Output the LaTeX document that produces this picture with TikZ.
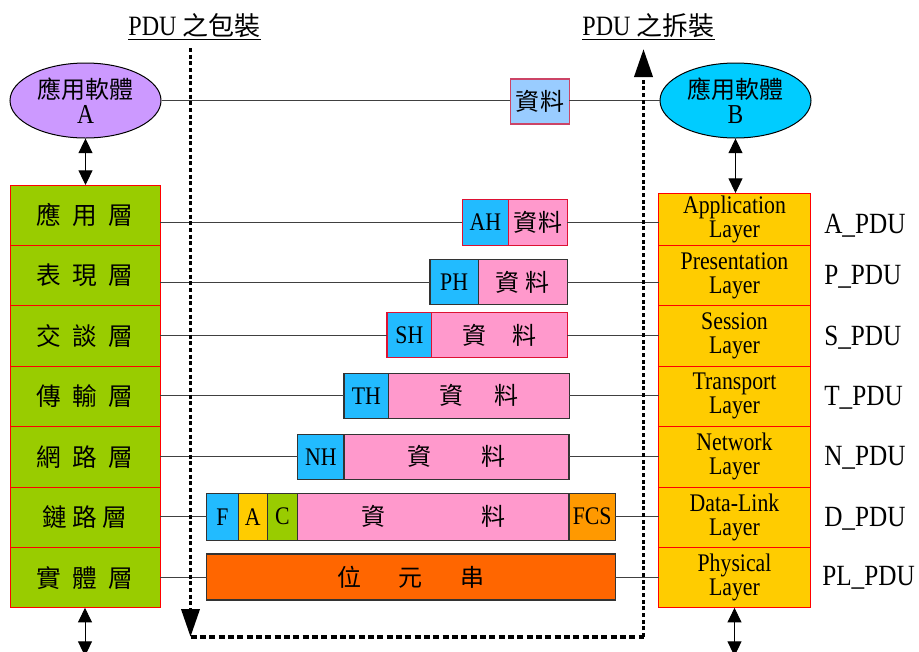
\documentclass[tikz,border=0pt]{standalone}
\usepackage{fontspec}
\setmainfont{Liberation Serif}[FakeStretch=0.86]
\newfontfamily\cjk{Noto Sans CJK TC}
\usetikzlibrary{arrows.meta,shapes.geometric}

\newcommand\pxu{0.75pt}
\newcommand\cjkfont{\cjk\fontsize{18}{20}\selectfont}
\newcommand\stackfont{\cjk\fontsize{18.5}{20}\selectfont}
\newcommand\latfont{\fontsize{19}{20}\selectfont}
\newcommand\lsp{\hspace{8.5pt}}

\definecolor{entA}{HTML}{CC99FF}
\definecolor{entB}{HTML}{00CCFF}
\definecolor{msgblue}{HTML}{99CCFF}
\definecolor{hdrblue}{HTML}{22BBFF}
\definecolor{datpink}{HTML}{FF99CC}
\definecolor{lgreen}{HTML}{99CC00}
\definecolor{lyellow}{HTML}{FFCC00}
\definecolor{fcsorange}{HTML}{FF9900}
\definecolor{bitorange}{HTML}{FF6600}
\definecolor{boxred}{HTML}{DD1133}
\definecolor{msgred}{HTML}{CC4466}
\definecolor{boxdark}{HTML}{333333}
\definecolor{linegray}{HTML}{404040}

\tikzset{
  cell/.style 2 args={rectangle, inner sep=0pt, outer sep=0pt,
    minimum width=#1*\pxu, minimum height=#2*\pxu},
  ent/.style={ellipse, draw=black, line width=0.75pt, inner sep=0pt,
    minimum width=151*\pxu, minimum height=75*\pxu, align=center,
    font=\fontsize{20.5}{18.75}\selectfont},
  lcell/.style={cell={150}{60.4}, draw=red, line width=0.75pt, fill=lgreen, font=\stackfont},
  rcell/.style={cell={152}{60.4}, draw=red, line width=0.75pt, fill=lyellow,
    align=center, font=\fontsize{19}{18}\selectfont},
  hdr/.style={draw=#1, line width=0.8pt, fill=hdrblue, font=\latfont, anchor=west},
  dat/.style={draw=#1, line width=0.8pt, fill=datpink, font=\cjkfont, anchor=west},
  pdu/.style={anchor=base west, inner sep=0pt, font=\fontsize{22}{22}\selectfont},
  link/.style={draw=linegray, line width=0.75pt},
  updown/.style={draw=black, line width=0.75pt,
    {Triangle[length=11pt,width=10.5pt]}-{Triangle[length=11pt,width=10.5pt]}},
  dotline/.style={draw=black, line width=2.8pt, dash pattern=on 3pt off 2pt},
  dashline/.style={draw=black, line width=2.8pt, dash pattern=on 4.5pt off 2.5pt},
  bigtip/.style={-{Triangle[length=21pt,width=13.5pt]}},
  title/.style={anchor=base, inner sep=0pt, font=\fontsize{21}{22}\selectfont}
}

\begin{document}
\begin{tikzpicture}[x=0.75pt,y=-0.75pt]
\useasboundingbox (0,0) rectangle (919,651);
\clip (0,0) rectangle (919,651);

% titles
\node[title] (tenc) at (194.5,35) {\underline{PDU {\cjk\fontsize{19.5}{20}\selectfont 之包裝}}};
\node[title] (tdec) at (648.5,35) {\underline{PDU {\cjk\fontsize{19.5}{20}\selectfont 之拆裝}}};

% application entities and the user data between them
\node[ent, fill=entA] (A) at (85.5,100.5) {{\cjkfont 應用軟體}\\A};
\node[ent, fill=entB] (B) at (735.5,100.5) {{\cjkfont 應用軟體}\\B};
\node[cell={59.3}{45}, draw=msgred, line width=0.8pt, fill=msgblue, font=\cjkfont]
  (msg) at (539.7,101.5) {資\hspace{0.75pt}料};
\draw[link] (A.east) -- (A.east -| msg.west);
\draw[link] (msg.east |- A.east) -- (B.west);

% sending stack
\node[lcell] (L1) at (85,215.2) {應\lsp 用\lsp 層};
\node[lcell] (L2) at (85,275.6) {表\lsp 現\lsp 層};
\node[lcell] (L3) at (85,336.0) {交\lsp 談\lsp 層};
\node[lcell] (L4) at (85,396.4) {傳\lsp 輸\lsp 層};
\node[lcell] (L5) at (85,456.8) {網\lsp 路\lsp 層};
\node[lcell] (L6) at (85,517.2) {鏈\hspace{4pt}路\hspace{4pt}層};
\node[lcell] (L7) at (85,577.6) {實\lsp 體\lsp 層};

% receiving stack
\node[rcell, minimum height=52.4*\pxu] (R1) at (734.5,219.2) {Application\\Layer};
\node[rcell] (R2) at (734.5,275.6) {Presentation\\Layer};
\node[rcell] (R3) at (734.5,336.0) {Session\\Layer};
\node[rcell] (R4) at (734.5,396.4) {Transport\\Layer};
\node[rcell] (R5) at (734.5,456.8) {Network\\Layer};
\node[rcell] (R6) at (734.5,517.2) {Data-Link\\Layer};
\node[rcell] (R7) at (734.5,577.6) {Physical\\Layer};

% PDU names
\node[pdu] (p1) at (824,233.3) {A\_PDU};
\node[pdu] (p2) at (824,284.0) {P\_PDU};
\node[pdu] (p3) at (824,345.0) {S\_PDU};
\node[pdu] (p4) at (824,405.7) {T\_PDU};
\node[pdu] (p5) at (824,465.0) {N\_PDU};
\node[pdu] (p6) at (824,526.7) {D\_PDU};
\node[pdu] (p7) at (822,585.0) {PL\_PDU};

% encapsulated units, one per layer
\node[hdr=boxred, cell={46}{46}] (h1) at (462.3,222.3) {AH};
\node[dat=boxred, cell={59}{46}] (d1) at (h1.east) {資\hspace{0.75pt}料};

\node[hdr=boxdark, cell={48.3}{44.7}] (h2) at (430,282.3) {PH};
\node[dat=boxdark, cell={89}{44.7}] (d2) at (h2.east) {資\hspace{4.5pt}料};

\node[hdr=boxred, cell={44.7}{44.6}] (h3) at (387,335) {SH};
\node[dat=boxred, cell={135.6}{44.6}] (d3) at (h3.east) {資\hspace{19.5pt}料};

\node[hdr=boxdark, cell={44.7}{45}] (h4) at (344,395.8) {TH};
\node[dat=boxdark, cell={180.6}{45}] (d4) at (h4.east) {資\hspace{23.3pt}料};

\node[hdr=boxdark, cell={46.3}{44.7}] (h5) at (297.7,456.7) {NH};
\node[dat=boxdark, cell={225}{44.7}] (d5) at (h5.east) {資\hspace{37.5pt}料};

\node[hdr=boxdark, cell={31.6}{46.7}] (f6) at (206.7,516.7) {F};
\node[hdr=boxdark, cell={29}{46.7}, fill=lyellow] (a6) at (f6.east) {A};
\node[hdr=boxdark, cell={30}{46.7}, fill=lgreen] (c6) at (a6.east) {C};
\node[dat=boxdark, cell={271.7}{46.7}] (d6) at (c6.east) {資\hspace{72pt}料};
\node[hdr=boxdark, cell={46.3}{46.7}, fill=fcsorange] (s6) at (d6.east) {FCS};

\node[dat=boxdark, cell={408.6}{46}, fill=bitorange] (b7) at (206.7,577) {位\hspace{28.5pt}元\hspace{28.5pt}串};

% peer connections through the units
\draw[link] (L1.east |- h1.west) -- (h1.west);
\draw[link] (d1.east) -- (d1.east -| R1.west);
\draw[link] (L2.east |- h2.west) -- (h2.west);
\draw[link] (d2.east) -- (d2.east -| R2.west);
\draw[link] (L3.east |- h3.west) -- (h3.west);
\draw[link] (d3.east) -- (d3.east -| R3.west);
\draw[link] (L4.east |- h4.west) -- (h4.west);
\draw[link] (d4.east) -- (d4.east -| R4.west);
\draw[link] (L5.east |- h5.west) -- (h5.west);
\draw[link] (d5.east) -- (d5.east -| R5.west);
\draw[link] (L6.east |- f6.west) -- (f6.west);
\draw[link] (s6.east) -- (s6.east -| R6.west);
\draw[link] (L7.east |- b7.west) -- (b7.west);
\draw[link] (b7.east) -- (b7.east -| R7.west);

% interfaces to the entities and to the medium
\coordinate (lb) at (85,656);
\coordinate (rb) at (734.5,656);
\draw[updown] (A.south) -- (A.south |- L1.north);
\draw[updown] (B.south) -- (B.south |- R1.north);
\draw[updown] (L7.south) -- (lb);
\draw[updown] (R7.south) -- (rb);

% direction of encapsulation and decapsulation
\coordinate (e0) at (190.5,48);
\coordinate (e1) at (190.5,637);
\coordinate (u1) at (643.5,637);
\coordinate (u0) at (643.5,49);
\draw[dotline, bigtip] (e0) -- (e1);
\draw[dashline] (e1) -- (u1);
\draw[dotline, bigtip] (u1) -- (u0);
\end{tikzpicture}
\end{document}
